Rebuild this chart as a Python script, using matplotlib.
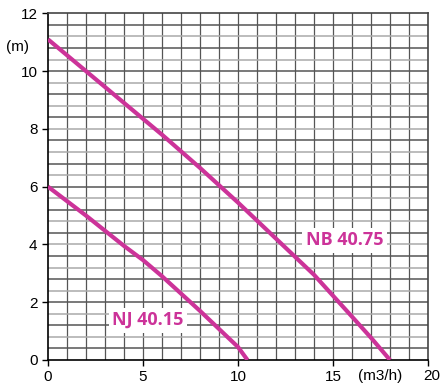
import numpy as np
import matplotlib.pyplot as plt

# Pump curves: flow (m3/h) vs head (m)
nb_flow = [0, 2, 4, 6, 8, 10, 12, 14, 16, 17, 18]
nb_head = [11.1, 10.0, 8.9, 7.8, 6.65, 5.45, 4.2, 2.95, 1.5, 0.77, 0.0]
nj_flow = [0, 2, 4, 5, 6, 8, 10, 10.5]
nj_head = [6.0, 5.0, 3.95, 3.46, 2.9, 1.7, 0.45, 0.0]

x_ticks = [0, 5, 10, 15, 20]
y_ticks = [0, 2, 4, 6, 8, 10, 12]
curve_color = '#cc3399'

plt.rcParams['font.family'] = ['Liberation Sans', 'DejaVu Sans']

fig = plt.figure(figsize=(4.44, 3.87), dpi=100)
ax = fig.add_axes([0.108, 0.0698, 0.856, 0.8958])

# grid: every 1 m3/h and every 0.4 m
for xv in np.arange(1, 20, 1):
    ax.axvline(xv, color='#555555', lw=0.9, zorder=1)
for i, yv in enumerate(np.arange(0.4, 12, 0.4)):
    c = '#555555' if (30 - i) % 2 == 0 else '#aaaaaa'
    ax.axhline(yv, color=c, lw=1.1, zorder=1)

ax.plot(nb_flow, nb_head, color=curve_color, lw=3.0, zorder=3, solid_capstyle='butt')
ax.plot(nj_flow, nj_head, color=curve_color, lw=3.0, zorder=3, solid_capstyle='butt')

box = dict(facecolor='white', edgecolor='none', pad=2.5)
ax.text(15.6, 4.15, 'NB 40.75', color=curve_color, fontsize=13, fontweight='bold',
        family=['Open Sans', 'DejaVu Sans'], ha='center', va='center', bbox=box, zorder=4)
ax.text(5.26, 1.38, 'NJ 40.15', color=curve_color, fontsize=13, fontweight='bold',
        family=['Open Sans', 'DejaVu Sans'], ha='center', va='center', bbox=box, zorder=4)

ax.set_xlim(0, 20)
ax.set_ylim(0, 12)
ax.set_xticks(x_ticks)
ax.set_yticks(y_ticks)
ax.tick_params(labelsize=11, length=4, width=1, color='black')
ax.set_xticklabels(['0', '5', '10', '15', ''])

ax.text(-0.05, 10.85, '(m)', fontsize=11, ha='right', va='center',
        transform=ax.get_yaxis_transform())
ax.text(17.5, -0.32, '(m3/h)', fontsize=11, ha='center', va='top')
ax.text(20.2, -0.32, '20', fontsize=11, ha='center', va='top', clip_on=False)

for s in ['left', 'bottom']:
    ax.spines[s].set_color('black')
    ax.spines[s].set_linewidth(1.2)
for s in ['top', 'right']:
    ax.spines[s].set_color('#444444')
    ax.spines[s].set_linewidth(1.2)

fig.savefig('out.png', dpi=100)
